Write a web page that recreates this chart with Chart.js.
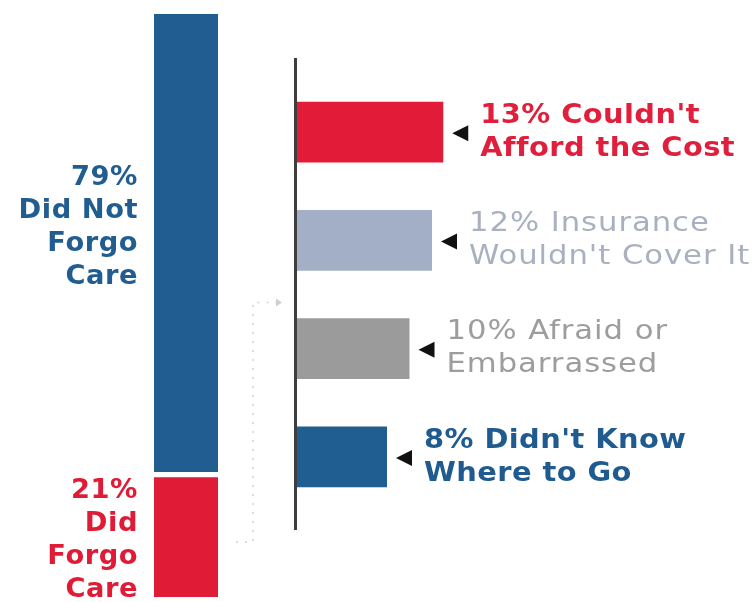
<!DOCTYPE html>
<html>
<head>
<meta charset="utf-8">
<script src="https://cdn.jsdelivr.net/npm/chart.js@4.4.1/dist/chart.umd.min.js"></script>
<style>
  html, body { margin: 0; padding: 0; background: #fff; }
  #wrap { position: relative; width: 756px; height: 602px; }
  #wrap canvas { position: absolute; left: 0; top: 0; }
</style>
</head>
<body>
<div id="wrap">
  <canvas id="split-chart" width="756" height="602"></canvas>
  <canvas id="reason-chart" width="756" height="602"></canvas>
</div>
<script>
// left column: share who did / did not forgo care (bottom to top)
const SPLIT_CATEGORIES = ["Respondents"];
const SPLIT_NAMES = ["Did Forgo Care", "Did Not Forgo Care"];
const SPLIT_VALUES = [21, 79];
const SPLIT_TEXT = [
  ["21%", "Did", "Forgo", "Care"],
  ["79%", "Did Not", "Forgo", "Care"]
];
const SPLIT_COLORS = ["#e01b36", "#215d90"];

// right side: reasons for forgoing care
const REASON_NAMES = ["Couldn't Afford the Cost", "Insurance Wouldn't Cover It", "Afraid or Embarrassed", "Didn't Know Where to Go"];
const REASON_VALUES = [13, 12, 10, 8];
const REASON_TEXT = [
  ["13% Couldn't", "Afford the Cost"],
  ["12% Insurance", "Wouldn't Cover It"],
  ["10% Afraid or", "Embarrassed"],
  ["8% Didn't Know", "Where to Go"]
];
const REASON_BAR_COLORS = ["#e21b38", "#a3afc6", "#9b9b9b", "#205d91"];
const REASON_TEXT_COLORS = ["#df1f3c", "#a9b0bf", "#9d9d9d", "#1f5b8f"];
const REASON_TEXT_WEIGHTS = ["bold", "normal", "normal", "bold"];

const FONT_FAMILY = '"DejaVu Sans", sans-serif';

// the original lettering is a wide geometric face, so stretch DejaVu a little
function wideText(ctx, text, x, y, stretch) {
  ctx.save();
  ctx.translate(x, y);
  ctx.scale(stretch, 1);
  ctx.fillText(text, 0, 0);
  ctx.restore();
}

const splitLabelPlugin = {
  id: "splitLabels",
  afterDatasetsDraw(chart, args, opts) {
    const ctx = chart.ctx;
    ctx.save();
    ctx.font = `bold 26px ${FONT_FAMILY}`;
    ctx.letterSpacing = "0.5px";
    ctx.textAlign = "right";
    ctx.textBaseline = "middle";
    chart.data.datasets.forEach((ds, i) => {
      const bar = chart.getDatasetMeta(i).data[0];
      const lines = SPLIT_TEXT[i];
      const mid = (bar.y + bar.base) / 2 + opts.shift[i];
      const lh = 33;
      const top = mid - (lines.length - 1) * lh / 2;
      ctx.fillStyle = SPLIT_COLORS[i];
      lines.forEach((line, k) => {
        wideText(ctx, line, bar.x - bar.width / 2 - 16, top + k * lh, 1.05);
      });
    });
    ctx.restore();
  }
};

const reasonDecorPlugin = {
  id: "reasonDecor",
  afterDatasetsDraw(chart) {
    const ctx = chart.ctx;
    const area = chart.chartArea;
    const xScale = chart.scales.x;
    const x0 = xScale.getPixelForValue(0);
    const meta = chart.getDatasetMeta(0);
    ctx.save();

    // axis line
    ctx.strokeStyle = "#3e3e3e";
    ctx.lineWidth = 3;
    ctx.beginPath();
    ctx.moveTo(x0 - 1.5, area.top - 20);
    ctx.lineTo(x0 - 1.5, area.bottom + 19);
    ctx.stroke();

    // faint dotted bracket from the left column
    const bx = x0 - 44;
    const byTop = (meta.data[1].y + meta.data[2].y) / 2 + 8;
    const byBottom = area.bottom + 31;
    ctx.strokeStyle = "#d2d2d2";
    ctx.lineWidth = 1.5;
    ctx.setLineDash([2, 7]);
    ctx.beginPath();
    ctx.moveTo(bx - 17, byBottom);
    ctx.lineTo(bx, byBottom);
    ctx.lineTo(bx, byTop);
    ctx.lineTo(bx + 24, byTop);
    ctx.stroke();
    ctx.setLineDash([]);
    ctx.fillStyle = "#cfcfcf";
    ctx.beginPath();
    ctx.moveTo(bx + 29, byTop);
    ctx.lineTo(bx + 23, byTop - 4);
    ctx.lineTo(bx + 23, byTop + 4);
    ctx.closePath();
    ctx.fill();

    // pointer triangles and labels
    ctx.textAlign = "left";
    ctx.textBaseline = "middle";
    meta.data.forEach((bar, i) => {
      const end = bar.x;
      ctx.fillStyle = "#111";
      ctx.beginPath();
      ctx.moveTo(end + 9, bar.y + 1);
      ctx.lineTo(end + 25, bar.y - 7);
      ctx.lineTo(end + 25, bar.y + 9);
      ctx.closePath();
      ctx.fill();

      const bold = REASON_TEXT_WEIGHTS[i] === "bold";
      ctx.font = `${REASON_TEXT_WEIGHTS[i]} 26px ${FONT_FAMILY}`;
      ctx.letterSpacing = bold ? "0.4px" : "0.8px";
      ctx.fillStyle = REASON_TEXT_COLORS[i];
      REASON_TEXT[i].forEach((line, k) => {
        wideText(ctx, line, end + 37, bar.y - 16 + k * 33, bold ? 1.11 : 1.18);
      });
    });
    ctx.restore();
  }
};

new Chart(document.getElementById("split-chart"), {
  type: "bar",
  data: {
    labels: SPLIT_CATEGORIES,
    datasets: SPLIT_VALUES.map((v, i) => ({
      label: SPLIT_NAMES[i],
      data: [v],
      backgroundColor: SPLIT_COLORS[i],
      borderColor: "#ffffff",
      borderWidth: i === 0 ? { top: 3, bottom: 0, left: 0, right: 0 } : { top: 0, bottom: 3, left: 0, right: 0 },
      borderSkipped: false,
      barPercentage: 1,
      categoryPercentage: 1
    }))
  },
  options: {
    responsive: false,
    animation: false,
    layout: { padding: { left: 154, right: 538, top: 14, bottom: 5 } },
    plugins: {
      legend: { display: false },
      tooltip: { enabled: false },
      splitLabels: { shift: [5, -17] }
    },
    scales: {
      x: { display: false, stacked: true },
      y: { display: false, stacked: true, min: 0, max: 100 }
    }
  },
  plugins: [splitLabelPlugin]
});

new Chart(document.getElementById("reason-chart"), {
  type: "bar",
  data: {
    labels: REASON_NAMES,
    datasets: [{
      label: "Reason",
      data: REASON_VALUES,
      backgroundColor: REASON_BAR_COLORS,
      borderWidth: 0,
      barPercentage: 0.56,
      categoryPercentage: 1
    }]
  },
  options: {
    indexAxis: "y",
    responsive: false,
    animation: false,
    layout: { padding: { left: 297, right: 9, top: 78, bottom: 91 } },
    plugins: {
      legend: { display: false },
      tooltip: { enabled: false }
    },
    scales: {
      x: { display: false, min: 0, max: 40 },
      y: { display: false }
    }
  },
  plugins: [reasonDecorPlugin]
});
</script>
</body>
</html>
